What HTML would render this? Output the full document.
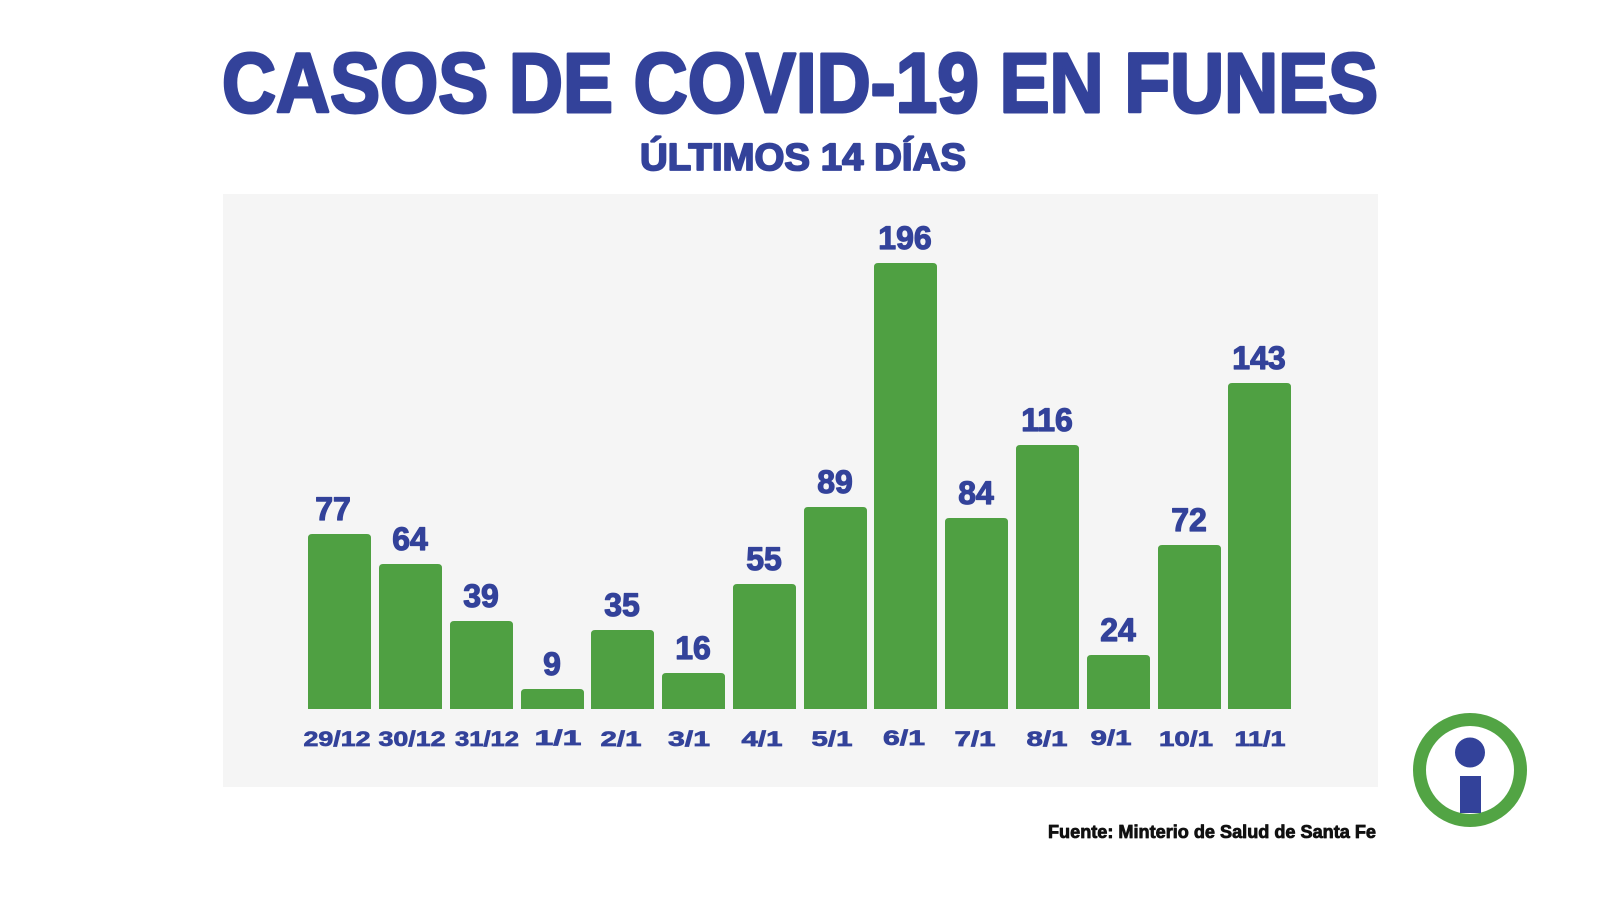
<!DOCTYPE html>
<html>
<head>
<meta charset="utf-8">
<style>
  html, body { margin: 0; padding: 0; background: #ffffff; }
  body { width: 1600px; height: 900px; overflow: hidden; }
  svg { display: block; }
  text { font-family: "Liberation Sans", "DejaVu Sans", sans-serif; font-weight: bold; }
</style>
</head>
<body>
<svg width="1600" height="900" viewBox="0 0 1600 900" xmlns="http://www.w3.org/2000/svg">
  <rect x="0" y="0" width="1600" height="900" fill="#ffffff"/>

  <!-- Title -->
  <text x="222" y="112" font-size="84" fill="#33429a" stroke="#33429a" stroke-width="3" stroke-linejoin="round" textLength="1156" lengthAdjust="spacingAndGlyphs">CASOS DE COVID-19 EN FUNES</text>
  <text x="640" y="170" font-size="38" fill="#33429a" stroke="#33429a" stroke-width="1.8" stroke-linejoin="round" textLength="326" lengthAdjust="spacingAndGlyphs">ÚLTIMOS 14 DÍAS</text>

  <!-- Chart background -->
  <rect x="223" y="194" width="1155" height="593" fill="#f5f5f5"/>

  <!-- Bars -->
  <g fill="#4fa042">
    <path d="M308,709 V538 Q308,534 312,534 H367 Q371,534 371,538 V709 Z"/>
    <path d="M379,709 V568 Q379,564 383,564 H438 Q442,564 442,568 V709 Z"/>
    <path d="M450,709 V625 Q450,621 454,621 H509 Q513,621 513,625 V709 Z"/>
    <path d="M521,709 V693 Q521,689 525,689 H580 Q584,689 584,693 V709 Z"/>
    <path d="M591,709 V634 Q591,630 595,630 H650 Q654,630 654,634 V709 Z"/>
    <path d="M662,709 V677 Q662,673 666,673 H721 Q725,673 725,677 V709 Z"/>
    <path d="M733,709 V588 Q733,584 737,584 H792 Q796,584 796,588 V709 Z"/>
    <path d="M804,709 V511 Q804,507 808,507 H863 Q867,507 867,511 V709 Z"/>
    <path d="M874,709 V267 Q874,263 878,263 H933 Q937,263 937,267 V709 Z"/>
    <path d="M945,709 V522 Q945,518 949,518 H1004 Q1008,518 1008,522 V709 Z"/>
    <path d="M1016,709 V449 Q1016,445 1020,445 H1075 Q1079,445 1079,449 V709 Z"/>
    <path d="M1087,709 V659 Q1087,655 1091,655 H1146 Q1150,655 1150,659 V709 Z"/>
    <path d="M1158,709 V549 Q1158,545 1162,545 H1217 Q1221,545 1221,549 V709 Z"/>
    <path d="M1228,709 V387 Q1228,383 1232,383 H1287 Q1291,383 1291,387 V709 Z"/>
  </g>

  <!-- Value labels -->
  <g font-size="32" fill="#33429a" stroke="#33429a" stroke-width="1.2" stroke-linejoin="round" text-anchor="middle">
    <text x="333" y="520">77</text>
    <text x="410" y="550">64</text>
    <text x="481" y="607">39</text>
    <text x="552" y="675">9</text>
    <text x="622" y="616">35</text>
    <text x="693" y="659">16</text>
    <text x="764" y="570">55</text>
    <text x="835" y="493">89</text>
    <text x="905" y="249">196</text>
    <text x="976" y="504">84</text>
    <text x="1047" y="431">116</text>
    <text x="1118" y="641">24</text>
    <text x="1189" y="531">72</text>
    <text x="1259" y="369">143</text>
  </g>

  <!-- Date labels -->
  <g font-size="21" fill="#33429a" stroke="#33429a" stroke-width="0.7" text-anchor="middle">
    <text x="337" y="746" textLength="67" lengthAdjust="spacingAndGlyphs">29/12</text>
    <text x="412" y="746" textLength="67" lengthAdjust="spacingAndGlyphs">30/12</text>
    <text x="487" y="746" textLength="64" lengthAdjust="spacingAndGlyphs">31/12</text>
    <text x="558" y="745" textLength="47" lengthAdjust="spacingAndGlyphs">1/1</text>
    <text x="621" y="746" textLength="41" lengthAdjust="spacingAndGlyphs">2/1</text>
    <text x="689" y="746" textLength="42" lengthAdjust="spacingAndGlyphs">3/1</text>
    <text x="762" y="746" textLength="41" lengthAdjust="spacingAndGlyphs">4/1</text>
    <text x="832" y="746" textLength="41" lengthAdjust="spacingAndGlyphs">5/1</text>
    <text x="904" y="745" textLength="42" lengthAdjust="spacingAndGlyphs">6/1</text>
    <text x="975" y="746" textLength="41" lengthAdjust="spacingAndGlyphs">7/1</text>
    <text x="1047" y="746" textLength="41" lengthAdjust="spacingAndGlyphs">8/1</text>
    <text x="1111" y="745" textLength="41" lengthAdjust="spacingAndGlyphs">9/1</text>
    <text x="1186" y="746" textLength="54" lengthAdjust="spacingAndGlyphs">10/1</text>
    <text x="1260" y="746" textLength="51" lengthAdjust="spacingAndGlyphs">11/1</text>
  </g>

  <!-- Logo -->
  <circle cx="1470" cy="770" r="50.5" fill="#ffffff" stroke="#52a444" stroke-width="13"/>
  <circle cx="1470" cy="752.5" r="15" fill="#33429a"/>
  <rect x="1460" y="776" width="21" height="37" fill="#33429a"/>

  <!-- Source -->
  <text x="1048" y="838" font-size="18" fill="#111111" stroke="#111111" stroke-width="0.8" stroke-linejoin="round" textLength="328" lengthAdjust="spacingAndGlyphs">Fuente: Minterio de Salud de Santa Fe</text>
</svg>
</body>
</html>
